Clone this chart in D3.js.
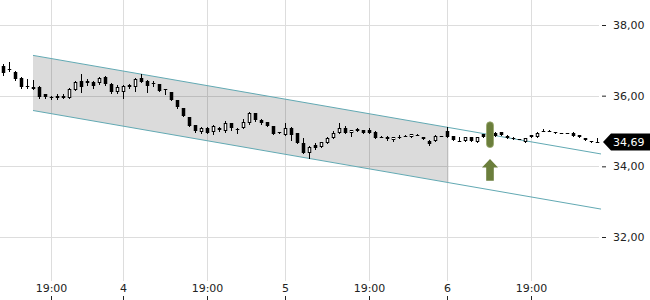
<!DOCTYPE html>
<html>
<head>
<meta charset="utf-8">
<script src="https://cdn.jsdelivr.net/npm/d3@7"></script>
<style>
  body { margin: 0; background: #fff; }
  svg { display: block; font-family: "DejaVu Sans", sans-serif; }
</style>
</head>
<body>
<div id="chart"></div>
<script>
// 15 min candles, index 0 = first visible candle
var opens  = [36.84,36.73,36.67,36.50,36.27,36.25,36.25,36.05,35.96,35.93,35.93,35.93,36.16,36.42,36.36,36.39,36.36,36.53,36.33,36.10,
              36.10,36.25,36.25,36.50,36.42,36.36,36.33,36.19,36.10,35.88,35.65,35.40,35.17,34.97,35.08,34.97,35.08,35.00,35.23,35.06,
              35.08,35.23,35.51,35.31,35.25,35.14,34.96,34.89,35.08,34.94,34.66,34.38,34.60,34.55,34.66,34.80,34.94,35.08,34.94,35.06,
              35.03,35.03,34.97,34.84,34.83,34.75,34.83,34.86,34.83,34.89,34.83,34.72,34.72,34.86,35.01,34.86,34.72,34.72,34.83,34.69,
              34.91,34.94,34.94,34.96,34.87,34.81,34.77,34.70,34.88,34.84,35.00,35.00,34.98,34.94,34.94,34.94,34.90,34.80,34.72,34.70];
var closes = [36.64,36.76,36.47,36.25,36.25,36.19,35.96,35.96,35.93,35.99,35.98,36.19,36.39,36.25,36.42,36.27,36.50,36.33,36.10,36.25,
              36.27,36.30,36.47,36.39,36.27,36.33,36.13,36.16,35.88,35.68,35.42,35.14,35.00,35.08,34.94,35.14,35.03,35.23,35.08,35.05,
              35.25,35.51,35.31,35.23,35.14,34.92,34.94,35.08,34.89,34.66,34.38,34.55,34.52,34.69,34.80,34.94,35.08,34.94,35.03,35.00,
              34.94,34.94,34.80,34.83,34.77,34.83,34.84,34.86,34.92,34.89,34.77,34.63,34.86,34.86,34.84,34.75,34.72,34.84,34.72,34.83,
              34.84,34.87,34.87,34.89,34.79,34.77,34.76,34.81,34.82,34.95,35.00,35.00,34.95,34.93,34.93,34.87,34.82,34.75,34.68,34.69];
var highs  = [36.90,36.95,36.70,36.53,36.47,36.44,36.27,36.05,35.99,36.05,36.04,36.22,36.42,36.61,36.47,36.42,36.53,36.56,36.36,36.30,
              36.30,36.33,36.50,36.61,36.44,36.42,36.33,36.19,36.10,35.88,35.65,35.40,35.17,35.11,35.11,35.17,35.11,35.28,35.23,35.08,
              35.34,35.54,35.51,35.34,35.25,35.14,34.97,35.23,35.11,34.94,34.80,34.58,34.66,34.69,34.83,35.00,35.23,35.14,35.03,35.08,
              35.03,35.08,35.00,34.86,34.86,34.83,34.89,34.89,34.92,34.92,34.83,34.75,34.89,34.86,35.12,34.86,34.83,34.84,34.83,34.83,
              34.92,34.97,34.98,34.97,34.88,34.82,34.78,34.81,34.88,34.96,35.06,35.02,34.98,34.95,34.95,34.96,34.90,34.80,34.72,34.80];
var lows   = [36.59,36.70,36.44,36.22,36.22,36.19,35.93,35.93,35.91,35.91,35.92,35.93,36.16,36.10,36.30,36.22,36.33,36.30,36.08,36.08,
              35.93,36.22,36.13,36.39,36.10,36.27,36.13,36.05,35.88,35.65,35.42,35.14,34.97,34.94,34.94,34.92,35.00,34.97,35.03,34.94,
              35.08,35.20,35.28,35.20,35.14,34.92,34.94,34.89,34.75,34.66,34.38,34.24,34.49,34.55,34.66,34.80,34.94,34.94,34.86,35.00,
              34.94,34.94,34.80,34.83,34.75,34.72,34.80,34.86,34.83,34.89,34.77,34.60,34.72,34.86,34.84,34.75,34.72,34.72,34.72,34.69,
              34.84,34.87,34.87,34.89,34.79,34.77,34.76,34.70,34.82,34.84,35.00,35.00,34.95,34.93,34.93,34.87,34.82,34.75,34.68,34.69];

var tickIdx = [8, 20, 34, 47, 61, 74, 88];
var tickLabels = ["19:00", "4", "19:00", "5", "19:00", "6", "19:00"];
var priceTicks = [32, 34, 36, 38];
var lastPrice = 34.69;

// trend channel: [start index, end index], shading stops at shadeEnd
var channelIdx = [5, 99.67];
var channelUpper = [37.14, 34.35];
var channelLower = [35.58, 32.79];
var shadeEnd = 74.25;

// signal marker + arrow
var markerIdx = 81;
var markerRange = [34.53, 35.26];
var arrowLevels = [34.21, 33.97, 33.59]; // tip, head base, bottom

var W = 650, H = 300;
var fmt = function (v) { return d3.format(".2f")(v).replace(".", ","); };

var x = d3.scaleLinear().domain([0, 99]).range([3, 597]);
var y = d3.scaleLinear().domain([32, 38]).range([237, 25]);

var svg = d3.select("#chart").append("svg").attr("width", W).attr("height", H);

// grid
svg.append("g").selectAll("line").data(tickIdx).enter().append("line")
    .attr("x1", function (d) { return Math.round(x(d)) + 0.5; })
    .attr("x2", function (d) { return Math.round(x(d)) + 0.5; })
    .attr("y1", 0).attr("y2", 281)
    .attr("stroke", "#dddddd");
svg.append("g").selectAll("line").data(priceTicks).enter().append("line")
    .attr("x1", 0).attr("x2", 599)
    .attr("y1", function (d) { return Math.round(y(d)) + 0.5; })
    .attr("y2", function (d) { return Math.round(y(d)) + 0.5; })
    .attr("stroke", "#dddddd");

// channel
var up = d3.scaleLinear().domain(channelIdx).range(channelUpper);
var lo = d3.scaleLinear().domain(channelIdx).range(channelLower);
svg.append("path")
    .attr("d", "M" + x(channelIdx[0]) + "," + y(up(channelIdx[0])) +
               "L" + x(shadeEnd) + "," + y(up(shadeEnd)) +
               "L" + x(shadeEnd) + "," + y(lo(shadeEnd)) +
               "L" + x(channelIdx[0]) + "," + y(lo(channelIdx[0])) + "Z")
    .attr("fill", "#000").attr("fill-opacity", 0.14);
[up, lo].forEach(function (f) {
    svg.append("line")
        .attr("x1", x(channelIdx[0])).attr("y1", y(f(channelIdx[0])))
        .attr("x2", x(channelIdx[1])).attr("y2", y(f(channelIdx[1])))
        .attr("stroke", "#62a9b3").attr("stroke-width", 1);
});

// candles
var candles = d3.range(opens.length).map(function (i) {
    return { i: i, o: opens[i], c: closes[i], h: highs[i], l: lows[i] };
});
var cg = svg.append("g").selectAll("g").data(candles).enter().append("g");
cg.append("line")
    .attr("x1", function (d) { return Math.round(x(d.i)) + 0.5; })
    .attr("x2", function (d) { return Math.round(x(d.i)) + 0.5; })
    .attr("y1", function (d) { return Math.round(y(d.h)); })
    .attr("y2", function (d) { return Math.round(y(d.l)) + 1; })
    .attr("stroke", "#000");
cg.append("rect")
    .each(function (d) {
        var cx = Math.round(x(d.i)) + 0.5;
        var t = Math.round(y(Math.max(d.o, d.c))), b = Math.round(y(Math.min(d.o, d.c)));
        var el = d3.select(this);
        if (d.c > d.o && b - t >= 3) {
            el.attr("x", cx - 1.25).attr("y", t + 0.5).attr("width", 2.5).attr("height", b - t - 1)
              .attr("fill", "#fff").attr("stroke", "#000");
        } else {
            el.attr("x", cx - 1.75).attr("y", t).attr("width", 3.5).attr("height", Math.max(1, b - t))
              .attr("fill", "#000");
        }
    });

// marker and arrow
var mx = Math.round(x(markerIdx)) + 1;
svg.append("rect")
    .attr("x", mx - 3.5).attr("y", y(markerRange[1]))
    .attr("width", 7).attr("height", y(markerRange[0]) - y(markerRange[1]))
    .attr("rx", 3.5).attr("ry", 3.5)
    .attr("fill", "#6b7e3c").attr("stroke", "#98a86c").attr("stroke-width", 0.8);
var at = y(arrowLevels[0]), ah = y(arrowLevels[1]), ab = y(arrowLevels[2]);
svg.append("path")
    .attr("d", "M" + mx + "," + at + "L" + (mx + 8) + "," + ah + "L" + (mx + 3.8) + "," + ah +
               "L" + (mx + 3.8) + "," + ab + "L" + (mx - 3.8) + "," + ab + "L" + (mx - 3.8) + "," + ah +
               "L" + (mx - 8) + "," + ah + "Z")
    .attr("fill", "#6b7e3c");

// axes
var yAxis = svg.append("g")
    .attr("transform", "translate(602,0)")
    .call(d3.axisRight(y).tickValues(priceTicks).tickFormat(fmt).tickSize(4).tickPadding(7));
yAxis.select(".domain").remove();
yAxis.selectAll("text").attr("font-size", 11).attr("fill", "#222").attr("font-family", "DejaVu Sans");
yAxis.selectAll("line").attr("stroke", "#222");

var xAxis = svg.append("g")
    .attr("transform", "translate(0,296)")
    .call(d3.axisBottom(x).tickValues(tickIdx)
        .tickFormat(function (d, k) { return tickLabels[k]; })
        .tickSize(4).tickPadding(-16));
xAxis.select(".domain").remove();
xAxis.selectAll("text").attr("font-size", 11).attr("fill", "#222").attr("font-family", "DejaVu Sans");
xAxis.selectAll("line").attr("stroke", "#222");

// last price flag
var ly = y(lastPrice);
svg.append("path")
    .attr("d", "M603," + ly + "L611," + (ly - 8.5) + "L650," + (ly - 8.5) + "L650," + (ly + 8.5) + "L611," + (ly + 8.5) + "Z")
    .attr("fill", "#000");
svg.append("text")
    .attr("x", 613).attr("y", ly + 4)
    .attr("font-size", 11).attr("fill", "#fff")
    .text(fmt(lastPrice));
</script>
</body>
</html>
